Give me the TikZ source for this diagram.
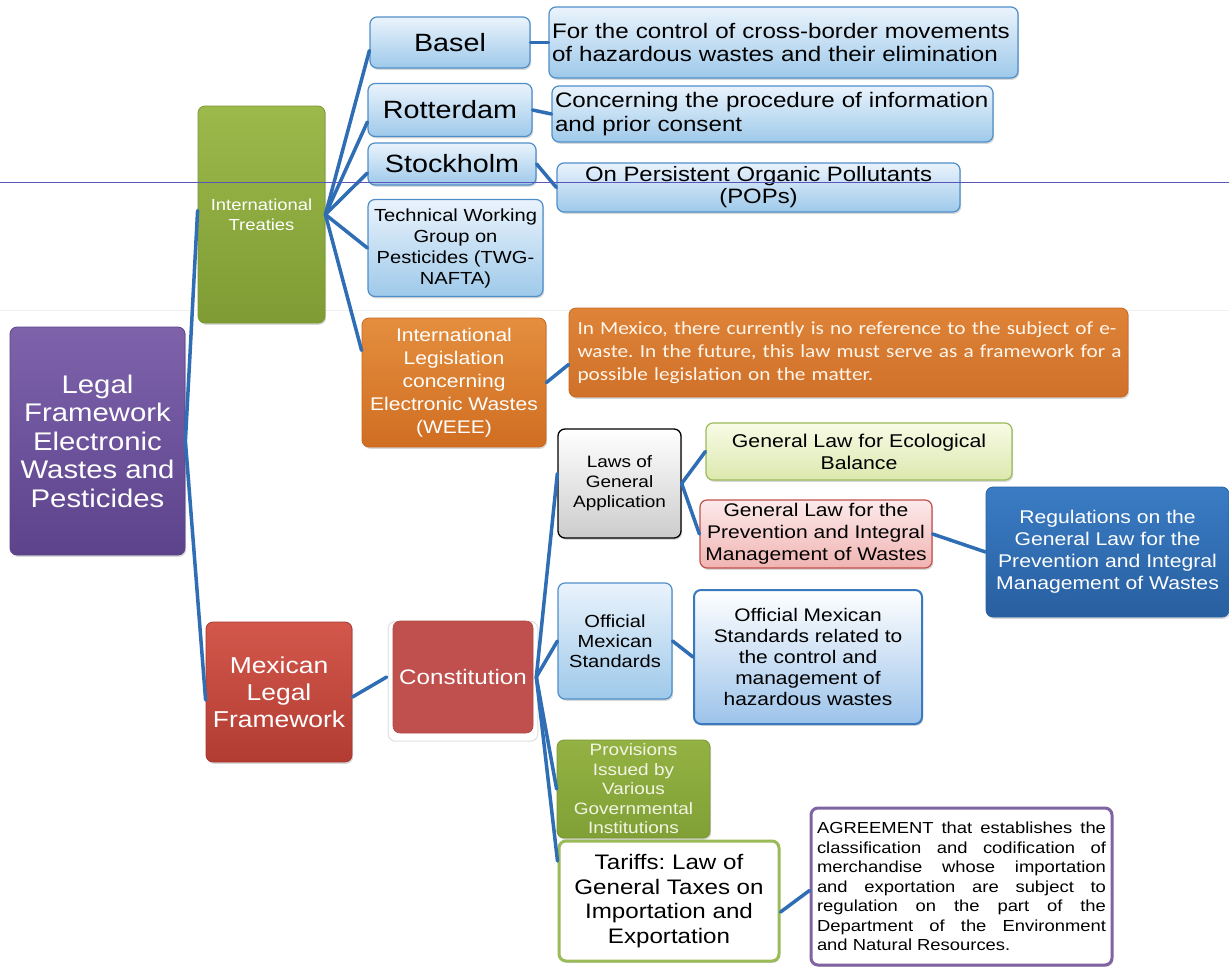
\documentclass[tikz,border=0pt]{standalone}
\usepackage{fontspec}
\setmainfont{Liberation Sans}[FakeStretch=1.15]
\newfontfamily\calibfont{Carlito}[FakeStretch=1.15]
\usetikzlibrary{shadows}
\newcommand\fsz[2]{\fontsize{#1}{#2}\selectfont}
\frenchspacing
\definecolor{connblue}{HTML}{2F6DB5}
\definecolor{artline}{HTML}{5A55B8}
\definecolor{bluetop}{HTML}{EAF3FC}
\definecolor{bluebot}{HTML}{9EC9EA}
\definecolor{blueedge}{HTML}{4F8FC9}
\definecolor{purtop}{HTML}{7E63AB}
\definecolor{purbot}{HTML}{5C438C}
\definecolor{puredge}{HTML}{5A4488}
\definecolor{grntop}{HTML}{9CB94C}
\definecolor{grnbot}{HTML}{7F9C34}
\definecolor{grnedge}{HTML}{7A9632}
\definecolor{redtop}{HTML}{D3574B}
\definecolor{redbot}{HTML}{B23C32}
\definecolor{rededge}{HTML}{A8382F}
\definecolor{orgtop}{HTML}{E48E3E}
\definecolor{orgbot}{HTML}{D06E22}
\definecolor{orgedge}{HTML}{C8681E}
\definecolor{mtop}{HTML}{DE8338}
\definecolor{mbot}{HTML}{D0712A}
\definecolor{mtext}{HTML}{FFF6EC}
\definecolor{constred}{HTML}{C0504D}
\definecolor{ecotop}{HTML}{F8FBE6}
\definecolor{ecobot}{HTML}{DCE8AE}
\definecolor{ecoedge}{HTML}{9BBB59}
\definecolor{prevtop}{HTML}{FCEAEA}
\definecolor{prevbot}{HTML}{F0B4B2}
\definecolor{regtop}{HTML}{3A7CC4}
\definecolor{regbot}{HTML}{285FA0}
\definecolor{regedge}{HTML}{2A62A4}
\definecolor{offrbot}{HTML}{9CC3EA}
\definecolor{offredge}{HTML}{3A78C0}
\definecolor{provtop}{HTML}{94B243}
\definecolor{provbot}{HTML}{80A036}
\definecolor{provtext}{HTML}{F2F5E4}
\definecolor{agreeedge}{HTML}{8064A2}
\begin{document}
\begin{tikzpicture}[x=1pt,y=-1pt,
  box/.style={rounded corners=7pt, inner sep=3pt, align=center,
    drop shadow={shadow xshift=1.2pt,shadow yshift=-1.8pt,opacity=0.3}},
  bluebox/.style={box, top color=bluetop, bottom color=bluebot, draw=blueedge, line width=1.2pt},
  conn/.style={draw=connblue, line width=3.5pt, line cap=round},
  ]
\useasboundingbox[fill=white] (0,0) rectangle (1229,967);
\draw[line width=0.6pt, draw=black!6] (0,310) -- (1229,310);

% root and level 1
\node[box, top color=purtop, bottom color=purbot, draw=puredge, line width=0.8pt,
  minimum width=175pt, minimum height=228pt, font=\fsz{25.5}{28.5}, text=white]
  (root) at (97.5,441) {Legal\\Framework\\Electronic\\Wastes and\\Pesticides};
\node[box, top color=grntop, bottom color=grnbot, draw=grnedge, line width=0.8pt,
  minimum width=127pt, minimum height=217pt, font=\fsz{16}{20}, text=white]
  (it) at (261.5,214.5) {International\\Treaties};
\node[box, top color=redtop, bottom color=redbot, draw=rededge, line width=0.8pt,
  minimum width=146pt, minimum height=140pt, font=\fsz{23}{27}, text=white]
  (mlf) at (279,692) {Mexican\\Legal\\Framework};

% treaties
\node[bluebox, minimum width=160pt, minimum height=51pt, font=\fsz{25}{28}] (basel) at (450,42.5) {Basel};
\node[bluebox, minimum width=164pt, minimum height=53pt, font=\fsz{25}{28}] (rott) at (450,110) {Rotterdam};
\node[bluebox, minimum width=168pt, minimum height=42pt, font=\fsz{25}{28}] (stock) at (452,164) {Stockholm};
\node[bluebox, minimum width=175pt, minimum height=97pt, font=\fsz{17.5}{21}] (twg) at (455.5,248)
  {Technical Working\\Group on\\Pesticides (TWG-\\NAFTA)};
\node[box, top color=orgtop, bottom color=orgbot, draw=orgedge, line width=0.8pt,
  minimum width=184pt, minimum height=129pt, font=\fsz{18.3}{23}, text=white]
  (leg) at (454,382.5) {International\\Legislation\\concerning\\Electronic Wastes\\(WEEE)};

\node[bluebox, inner sep=3pt, text width=463pt, minimum height=71pt, align=left, font=\fsz{21}{23.5}]
  (bdesc) at (783.5,42.5) {For the control of cross-border movements\\of hazardous wastes and their elimination};
\node[bluebox, inner sep=3pt, text width=435pt, minimum height=56pt, align=left, font=\fsz{21}{23.5}]
  (rdesc) at (772.5,114) {Concerning the procedure of information\\and prior consent};
\node[bluebox, minimum width=403pt, minimum height=49pt, font=\fsz{20.8}{22}]
  (sdesc) at (758.5,187.5) {On Persistent Organic Pollutants\\(POPs)};
\node[box, inner sep=4.5pt, top color=mtop, bottom color=mbot, draw=orgedge, line width=0.8pt,
  text width=550pt, minimum height=89pt, align=left, font=\calibfont\fsz{18.5}{23}, text=mtext]
  (mdesc) at (848.5,352.5) {\hspace*{4pt}In Mexico, there currently is no reference to the subject of e-\\\hspace*{4pt}waste. In the future, this law must serve as a framework for a\\\hspace*{4pt}possible legislation on the matter.};

% Mexican framework
\node[rounded corners=7pt, inner sep=3pt, fill=constred, draw=constred!90!black, line width=0.6pt,
  general shadow={fill=white, draw=black!12, line width=1pt, shadow scale=1.07, shadow yshift=-4pt},
  minimum width=140pt, minimum height=112pt, font=\fsz{21}{25}, text=white]
  (const) at (463,677) {Constitution};
\node[box, top color=white, bottom color=black!20, draw=black, line width=1.3pt,
  minimum width=123pt, minimum height=109pt, font=\fsz{16.5}{20}]
  (laws) at (619.5,483.5) {Laws of\\General\\Application};
\node[box, top color=ecotop, bottom color=ecobot, draw=ecoedge, line width=1.2pt,
  minimum width=306pt, minimum height=57pt, font=\fsz{18.5}{22}]
  (eco) at (859,451.5) {General Law for Ecological\\Balance};
\node[box, top color=prevtop, bottom color=prevbot, draw=constred, line width=1.2pt,
  minimum width=232pt, minimum height=68pt, font=\fsz{18.3}{22}]
  (prev) at (816,534) {General Law for the\\Prevention and Integral\\Management of Wastes};
\node[box, top color=regtop, bottom color=regbot, draw=regedge, line width=0.8pt,
  minimum width=243pt, minimum height=130pt, font=\fsz{18.4}{22}, text=white]
  (reg) at (1107.5,552) {Regulations on the\\General Law for the\\Prevention and Integral\\Management of Wastes};
\node[bluebox, minimum width=114pt, minimum height=116pt, font=\fsz{17.5}{20}]
  (offs) at (615,641) {Official\\Mexican\\Standards};
\node[box, top color=white, bottom color=offrbot, draw=offredge, line width=2pt,
  minimum width=228pt, minimum height=134pt, font=\fsz{18.2}{21}]
  (offr) at (808,657) {Official Mexican\\Standards related to\\the control and\\management of\\hazardous wastes};
\node[box, top color=provtop, bottom color=provbot, draw=grnedge, line width=0.8pt,
  minimum width=153pt, minimum height=98pt, font=\fsz{16.5}{19.5}, text=provtext]
  (prov) at (633.5,789) {Provisions\\Issued by\\Various\\Governmental\\Institutions};
\node[box, fill=white, draw=ecoedge, line width=3pt,
  minimum width=220pt, minimum height=120pt, font=\fsz{21}{24.5}]
  (tar) at (669,901) {Tariffs: Law of\\General Taxes on\\Importation and\\Exportation};
\node[box, fill=white, draw=agreeedge, line width=3pt, inner sep=6pt,
  text width=289pt, minimum height=157pt, align=justify, font=\fsz{16}{19.5}]
  (agree) at (961.5,886.5) {AGREEMENT that establishes the\linebreak classification and codification of\linebreak merchandise whose importation\linebreak and exportation are subject to\linebreak regulation on the part of the\linebreak Department of the Environment\linebreak and Natural Resources.};

% connectors
\draw[conn] (root.east) -- ([yshift=4pt]it.west);
\draw[conn] (root.east) -- ([yshift=-8pt]mlf.west);
\draw[conn] (it.east) -- ([yshift=-8pt]basel.west);
\draw[conn] (it.east) -- ([yshift=-12pt]rott.west);
\draw[conn] (it.east) -- ([yshift=-9pt]stock.west);
\draw[conn] (it.east) -- (twg.west);
\draw[conn] (it.east) -- ([yshift=32pt]leg.west);
\draw[conn] (basel.east) -- (bdesc.west);
\draw[conn] (rott.east) -- (rdesc.west);
\draw[conn] (stock.east) -- (sdesc.west);
\draw[conn] (leg.east) -- ([yshift=-12pt]mdesc.west);
\draw[conn] ([yshift=-5pt]mlf.east) -- ([xshift=-6pt]const.west);
\draw[conn] ([xshift=3pt]const.east) -- ([yshift=10pt]laws.west);
\draw[conn] ([xshift=3pt]const.east) -- (offs.west);
\draw[conn] ([xshift=3pt]const.east) -- (prov.west);
\draw[conn] ([xshift=3pt]const.east) -- ([yshift=40pt]tar.west);
\draw[conn] (laws.east) -- (eco.west);
\draw[conn] (laws.east) -- (prev.west);
\draw[conn] (prev.east) -- (reg.west);
\draw[conn] (offs.east) -- (offr.west);
\draw[conn] ([yshift=-11pt]tar.east) -- ([yshift=-4pt]agree.west);

\draw[line width=0.9pt, draw=artline] (0,182) -- (1229,182);
\end{tikzpicture}
\end{document}
